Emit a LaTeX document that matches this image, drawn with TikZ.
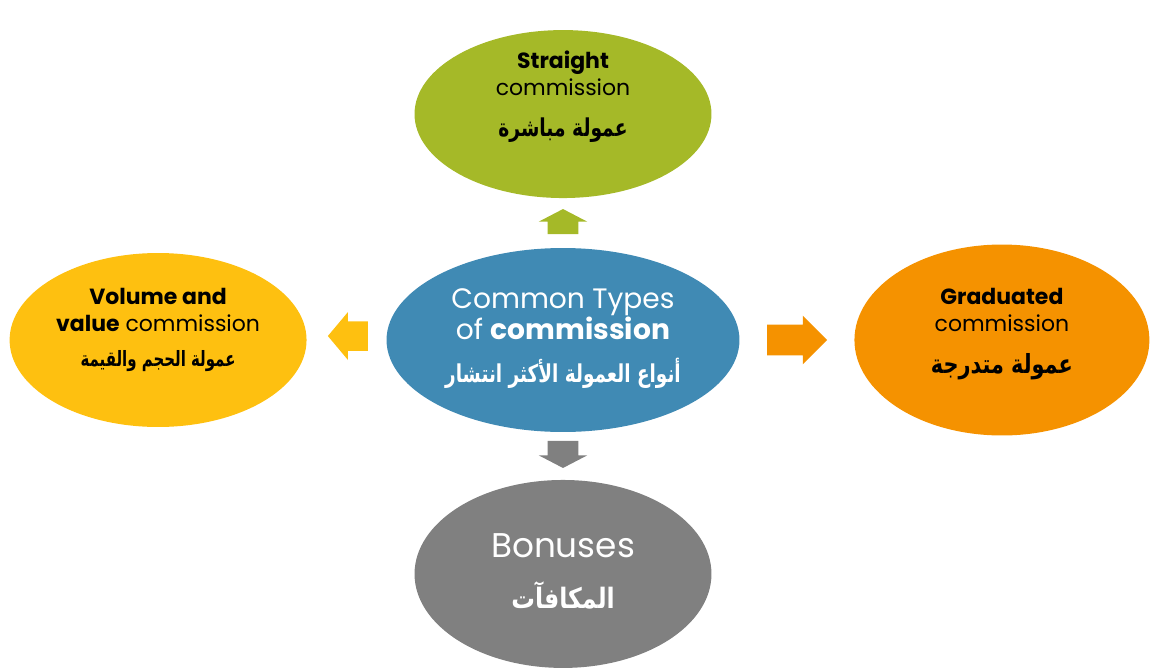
\documentclass[tikz,border=0pt]{standalone}
\usepackage{graphicx}
\usepackage{fontspec}
\setmainfont{Poppins}
\newfontfamily\arabicfont[Script=Arabic]{DejaVu Sans}
\TeXXeTstate=1
\usetikzlibrary{shapes.geometric,shapes.arrows}
\definecolor{commgreen}{RGB}{165,185,40}
\definecolor{commblue}{RGB}{64,138,180}
\definecolor{commyellow}{RGB}{254,192,16}
\definecolor{commorange}{RGB}{245,146,0}
\definecolor{commgray}{RGB}{128,128,128}
% Arabic line: size, horizontal squeeze, text
\newcommand\artext[3]{{\arabicfont\bfseries\fontsize{#1}{#1}\selectfont\scalebox{#2}[1]{#3}}}

\begin{document}
\begin{tikzpicture}[x=0.02cm, y=-0.02cm, node distance=2cm]
% Define styles
\tikzstyle{kind} = [ellipse, draw=none, minimum width=5.94cm, minimum height=3.4cm, inner sep=0pt]
\tikzstyle{kindtext} = [align=center, inner sep=0pt, font=\fontsize{12.5}{15.3}\selectfont]
\tikzstyle{blockarrow} = [single arrow, draw=none, minimum width=0.96cm, single arrow head extend=0.18cm, inner xsep=0pt, inner ysep=0.3cm]
\tikzstyle{blockarrowv} = [blockarrow, inner xsep=0.3cm, inner ysep=0pt]

\useasboundingbox (0,0) rectangle (1150,670);

% Place nodes
\node [kind, fill=commblue, minimum width=7.06cm, minimum height=3.68cm] (types) at (563,340) {};
\node [kind, fill=commgreen, above of=types, node distance=4.52cm, minimum height=3.36cm] (straight) {};
\node [kind, fill=commyellow, left of=types, node distance=8.1cm, minimum height=3.48cm] (volume) {};
\node [kind, fill=commorange, right of=types, node distance=8.78cm, minimum width=5.9cm, minimum height=3.82cm] (graduated) {};
\node [kind, fill=commgray, below of=types, node distance=4.68cm, minimum height=3.76cm] (bonuses) {};

% Block arrows
\node [blockarrowv, fill=commgreen, above of=types, node distance=2.29cm, minimum height=0.5cm, shape border rotate=90, single arrow tip angle=125] (up arrow) {};
\node [blockarrow, fill=commyellow, left of=types, node distance=4.18cm, yshift=0.08cm, minimum height=0.8cm, inner ysep=0.28cm, shape border rotate=180, single arrow tip angle=100] (left arrow) {};
\node [blockarrow, fill=commorange, right of=types, node distance=4.53cm, minimum height=1.2cm, single arrow tip angle=90] (right arrow) {};
\node [blockarrowv, fill=commgray, below of=types, node distance=2.21cm, minimum height=0.54cm, shape border rotate=270, single arrow tip angle=125] (down arrow) {};

% Texts
\node [kindtext, text=white, font=\fontsize{16}{17.6}\selectfont] (types text) at ([yshift=0.03cm]types.center)
  {Common Types\\ of \textbf{commission}\\[7pt] \artext{14}{0.75}{\beginR أنواع العمولة الأكثر انتشار\endR}};
\node [kindtext] (straight text) at ([yshift=0.34cm]straight.center)
  {\textbf{Straight}\\ commission\\[8pt] \artext{14}{0.76}{\beginR عمولة مباشرة\endR}};
\node [kindtext] (volume text) at ([yshift=0.2cm]volume.center)
  {\textbf{Volume and}\\ \textbf{value} commission\\[5pt] \artext{12}{0.71}{\beginR عمولة الحجم والقيمة\endR}};
\node [kindtext] (graduated text) at ([yshift=0.12cm]graduated.center)
  {\textbf{Graduated}\\ commission\\[9pt] \artext{15}{0.79}{\beginR عمولة متدرجة\endR}};
\node [kindtext, text=white, font=\fontsize{19.5}{22}\selectfont] (bonuses text) at ([yshift=0.06cm]bonuses.center)
  {Bonuses\\[7pt] \artext{16}{0.84}{\beginR المكافآت\endR}};
\end{tikzpicture}
\end{document}
